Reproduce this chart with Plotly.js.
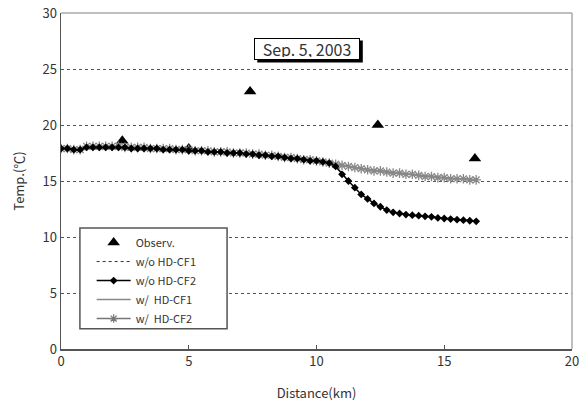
<!DOCTYPE html>
<html>
<head>
<meta charset="utf-8">
<script src="https://cdn.plot.ly/plotly-3.0.1.min.js"></script>
<style>html,body{margin:0;padding:0;background:#fff;}#chart{width:586px;height:405px;}</style>
</head>
<body>
<div id="chart"></div>
<script>
// Observations
const obsX = [2.4, 5.0, 7.4, 12.4, 16.2];
const obsY = [18.6, 17.9, 23.0, 20.0, 17.0];

// Model distance (km)
const modelX = [0,0.25,0.5,0.75,1.0,1.25,1.5,1.75,2.0,2.25,2.5,2.75,3.0,3.25,3.5,3.75,4.0,4.25,4.5,4.75,5.0,5.25,5.5,5.75,6.0,6.25,6.5,6.75,7.0,7.25,7.5,7.75,8.0,8.25,8.5,8.75,9.0,9.25,9.5,9.75,10.0,10.25,10.5,10.75,11.0,11.25,11.5,11.75,12.0,12.25,12.5,12.75,13.0,13.25,13.5,13.75,14.0,14.25,14.5,14.75,15.0,15.25,15.5,15.75,16.0,16.25];

// w/o HD-CF1
const woCF1 = [17.9,17.9,17.8,17.8,18.1,18.1,18.1,18.1,18.1,18.1,18.0,18.0,18.0,18.0,17.9,17.9,17.9,17.9,17.8,17.8,17.8,17.7,17.7,17.7,17.6,17.6,17.6,17.5,17.5,17.5,17.4,17.4,17.3,17.3,17.2,17.1,17.1,17.0,16.9,16.9,16.8,16.7,16.6,16.5,16.4,16.3,16.2,16.1,16.0,15.9,15.9,15.8,15.7,15.7,15.6,15.6,15.5,15.4,15.4,15.3,15.3,15.2,15.2,15.2,15.1,15.1];
// w/o HD-CF2
const woCF2 = [17.9,17.9,17.8,17.8,18.0,18.0,18.0,18.0,18.0,18.0,18.0,17.9,17.9,17.9,17.9,17.9,17.8,17.8,17.8,17.8,17.7,17.7,17.7,17.6,17.6,17.6,17.5,17.5,17.5,17.4,17.4,17.3,17.3,17.2,17.2,17.1,17.0,17.0,16.9,16.8,16.8,16.7,16.6,16.3,15.6,15.0,14.4,13.8,13.4,13.0,12.7,12.4,12.2,12.1,12.0,11.95,11.9,11.85,11.8,11.7,11.65,11.6,11.55,11.5,11.45,11.4];
// w/ HD-CF1
const wCF1 = [17.9,17.9,17.8,17.8,18.1,18.1,18.1,18.1,18.1,18.0,18.0,18.0,18.0,18.0,17.9,17.9,17.9,17.8,17.8,17.8,17.8,17.7,17.7,17.7,17.6,17.6,17.6,17.5,17.5,17.5,17.4,17.4,17.3,17.3,17.2,17.2,17.1,17.0,17.0,16.9,16.8,16.7,16.6,16.5,16.4,16.3,16.2,16.1,16.0,16.0,15.9,15.8,15.8,15.7,15.6,15.6,15.5,15.5,15.4,15.4,15.3,15.3,15.2,15.2,15.2,15.1];
// w/ HD-CF2
const wCF2 = [17.9,17.9,17.8,17.8,18.1,18.1,18.1,18.1,18.1,18.1,18.0,18.0,18.0,18.0,17.9,17.9,17.9,17.9,17.8,17.8,17.8,17.7,17.7,17.7,17.6,17.6,17.6,17.5,17.5,17.5,17.4,17.4,17.3,17.3,17.2,17.1,17.1,17.0,16.9,16.9,16.8,16.7,16.6,16.5,16.4,16.3,16.2,16.1,16.0,15.9,15.9,15.8,15.7,15.7,15.6,15.6,15.5,15.4,15.4,15.3,15.3,15.2,15.2,15.2,15.1,15.1];

const xTicks = [0,5,10,15,20];
const yTicks = [0,5,10,15,20,25,30];
const titleText = 'Sep. 5, 2003';

const FONT = 'Noto Sans CJK KR, DejaVu Sans, sans-serif';

const traces = [
  {x: obsX, y: obsY, name: 'Observ.', mode: 'markers', type: 'scatter',
   marker: {symbol: 'triangle-up', size: 11, color: '#000'}},
  {x: modelX, y: woCF1, name: 'w/o HD-CF1', mode: 'lines', type: 'scatter',
   line: {color: '#333', width: 1, dash: 'dot'}},
  {x: modelX, y: wCF1, name: 'w/  HD-CF1', mode: 'lines', type: 'scatter',
   line: {color: '#888', width: 1.5}, showlegend: false},
  {x: modelX, y: wCF2, name: 'w/  HD-CF2', mode: 'lines+markers', type: 'scatter',
   line: {color: '#999', width: 2},
   marker: {symbol: 'asterisk-open', size: 8, color: '#888', line: {color: '#888', width: 1.3}}, showlegend: false},
  {x: modelX, y: woCF2, name: 'w/o HD-CF2', mode: 'lines+markers', type: 'scatter',
   line: {color: '#000', width: 1.5},
   marker: {symbol: 'diamond', size: 6, color: '#000'}},
  // legend-only entries for ordering
  {x: [null], y: [null], name: 'w/  HD-CF1', mode: 'lines', type: 'scatter',
   line: {color: '#888', width: 1.5}},
  {x: [null], y: [null], name: 'w/  HD-CF2', mode: 'lines+markers', type: 'scatter',
   line: {color: '#777', width: 1.5},
   marker: {symbol: 'asterisk-open', size: 7, color: '#777', line: {color: '#777', width: 1.2}}}
];

const layout = {
  width: 586, height: 405,
  margin: {l: 61, r: 14, t: 13, b: 56},
  paper_bgcolor: '#fff', plot_bgcolor: '#fff',
  font: {family: FONT, size: 12, color: '#333'},
  showlegend: true,
  legend: {x: 0.06, y: 0.36, xanchor: 'left', yanchor: 'top',
    borderwidth: 0, bgcolor: 'rgba(0,0,0,0)',
    font: {family: FONT, size: 11, color: '#333'}, tracegroupgap: 0, itemwidth: 34,
    traceorder: 'normal'},
  xaxis: {range: [0, 20], tickvals: xTicks, ticks: 'inside', ticklen: 4, tickcolor: '#555',
    showgrid: false, zeroline: false, showline: true, linecolor: '#555', linewidth: 1.5,
    tickfont: {size: 13, color: '#333'},
    title: {text: 'Distance(km)', font: {size: 13, color: '#333'}, standoff: 20}},
  yaxis: {range: [0, 30], tickvals: yTicks, ticks: '', showgrid: true,
    gridcolor: '#555', griddash: 'dot', gridwidth: 1,
    zeroline: false, showline: true, linecolor: '#555', linewidth: 1.5,
    tickfont: {size: 13, color: '#333'},
    title: {text: 'Temp.(℃)', font: {size: 13, color: '#333'}, standoff: 15}},
  shapes: [
    {type: 'line', xref: 'paper', yref: 'paper', x0: 0, x1: 1, y0: 1, y1: 1, line: {color: '#aaa', width: 1.5}},
    {type: 'line', xref: 'paper', yref: 'paper', x0: 1, x1: 1, y0: 0, y1: 1, line: {color: '#aaa', width: 1.5}},
    // legend frame
    {type: 'rect', xref: 'paper', yref: 'paper', x0: 0.037, x1: 0.325, y0: 0.06, y1: 0.36,
     layer: 'above', fillcolor: '#fff', line: {color: '#555', width: 1.5}},
    // title box shadow
    {type: 'rect', xref: 'paper', yref: 'paper', xsizemode: 'pixel', ysizemode: 'pixel',
     xanchor: 0.482, yanchor: 0.893, x0: -50, x1: 55.5, y0: -13.5, y1: 8.5,
     layer: 'above', fillcolor: '#000', line: {width: 0}}
  ],
  annotations: [
    {text: titleText, xref: 'paper', yref: 'paper', x: 0.482, y: 0.893, xanchor: 'center', yanchor: 'middle',
     showarrow: false, width: 100, height: 16,
     font: {size: 16, color: '#333'}, bgcolor: '#fff', bordercolor: '#000', borderwidth: 1, borderpad: 2}
  ]
};

Plotly.newPlot('chart', traces, layout, {displayModeBar: false, staticPlot: true});
</script>
</body>
</html>
